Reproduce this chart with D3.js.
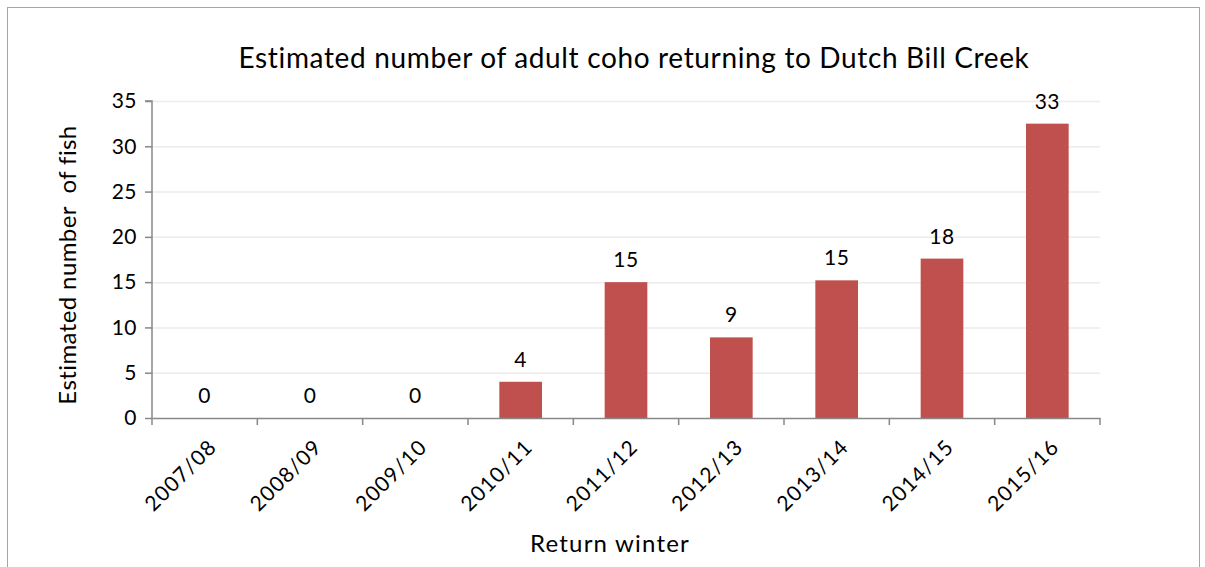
<!DOCTYPE html>
<html><head><meta charset="utf-8">
<script src="https://cdn.jsdelivr.net/npm/d3@7"></script>
<style>body{margin:0;background:#fff}svg{display:block}text{font-family:Lato,sans-serif;fill:#000}</style>
</head><body><svg id="c" width="1205" height="567"></svg>
<script>
const categories = ["2007/08","2008/09","2009/10","2010/11","2011/12","2012/13","2013/14","2014/15","2015/16"];
const values = [0,0,0,4,15,8.9,15.2,17.6,32.5];
const labels = ["0","0","0","4","15","9","15","18","33"];
const yTicks = [0,5,10,15,20,25,30,35];
const title = "Estimated number of adult coho returning to Dutch Bill Creek";
const xTitle = "Return winter";
const yTitle = "Estimated number\u00a0 of fish";

const svg = d3.select("#c");
svg.append("rect").attr("x",7.5).attr("y",7.5).attr("width",1192).attr("height",570).attr("fill","none").attr("stroke","#a6a6a6");

const m = {l:152, r:1100, t:101, b:418};
const x = d3.scaleBand().domain(categories).range([m.l,m.r]).paddingInner(0.595).paddingOuter(0.2975);
const y = d3.scaleLinear().domain([0,35]).range([m.b,m.t]);

svg.append("g").selectAll("line").data(yTicks.slice(1)).join("line")
  .attr("x1",m.l).attr("x2",m.r).attr("y1",d=>y(d)+0.5).attr("y2",d=>y(d)+0.5)
  .attr("stroke","#ececec").attr("stroke-width",1.5);

svg.append("g").selectAll("rect").data(values).join("rect")
  .attr("x",(d,i)=>x(categories[i])).attr("width",x.bandwidth())
  .attr("y",d=>y(d)).attr("height",d=>y(0)-y(d)).attr("fill","#C0504D");

const ya = svg.append("g").attr("transform",`translate(${m.l},0)`)
  .call(d3.axisLeft(y).tickValues(yTicks).tickSize(7).tickPadding(8));
ya.select(".domain").attr("stroke","#888").attr("stroke-width",1.5).attr("d",`M-7,${m.t}H0V${m.b}`);
ya.selectAll(".tick line").attr("stroke","#888").attr("stroke-width",1.5);
ya.selectAll(".tick text").attr("font-size",21).style("font-family","Lato,sans-serif").style("letter-spacing","0.5px").attr("fill","#000");

const xa = svg.append("g").attr("transform",`translate(0,${m.b})`)
  .call(d3.axisBottom(x).tickSize(0).tickFormat(""));
xa.select(".domain").attr("stroke","#888").attr("stroke-width",1.5);
const edges = categories.map(c=>x(c)-x.step()*x.paddingInner()/2).concat([m.r]);
xa.selectAll(".edge").data(edges).join("line").attr("x1",d=>d).attr("x2",d=>d).attr("y1",0).attr("y2",7).attr("stroke","#888").attr("stroke-width",1.5);
svg.append("g").selectAll("text").data(categories).join("text")
  .attr("transform",d=>`translate(${x(d)+x.bandwidth()/2+8},${m.b+25}) rotate(-45)`)
  .attr("text-anchor","end").attr("dy","0.35em").attr("font-size",21).style("letter-spacing","1.2px").text(d=>d);

svg.append("g").selectAll("text").data(values).join("text")
  .attr("x",(d,i)=>x(categories[i])+x.bandwidth()/2).attr("y",d=>y(d)-15)
  .attr("text-anchor","middle").attr("font-size",21).style("letter-spacing","0.5px").text((d,i)=>labels[i]);

svg.append("text").attr("x",634).attr("y",68).attr("text-anchor","middle").attr("font-size",28).style("letter-spacing","0.65px").text(title);
svg.append("text").attr("x",610).attr("y",552).attr("text-anchor","middle").attr("font-size",24).style("letter-spacing","1.2px").text(xTitle);
svg.append("text").attr("transform","translate(76,265) rotate(-90)").attr("text-anchor","middle").attr("font-size",24).style("letter-spacing","0.4px").text(yTitle);
</script></body></html>
